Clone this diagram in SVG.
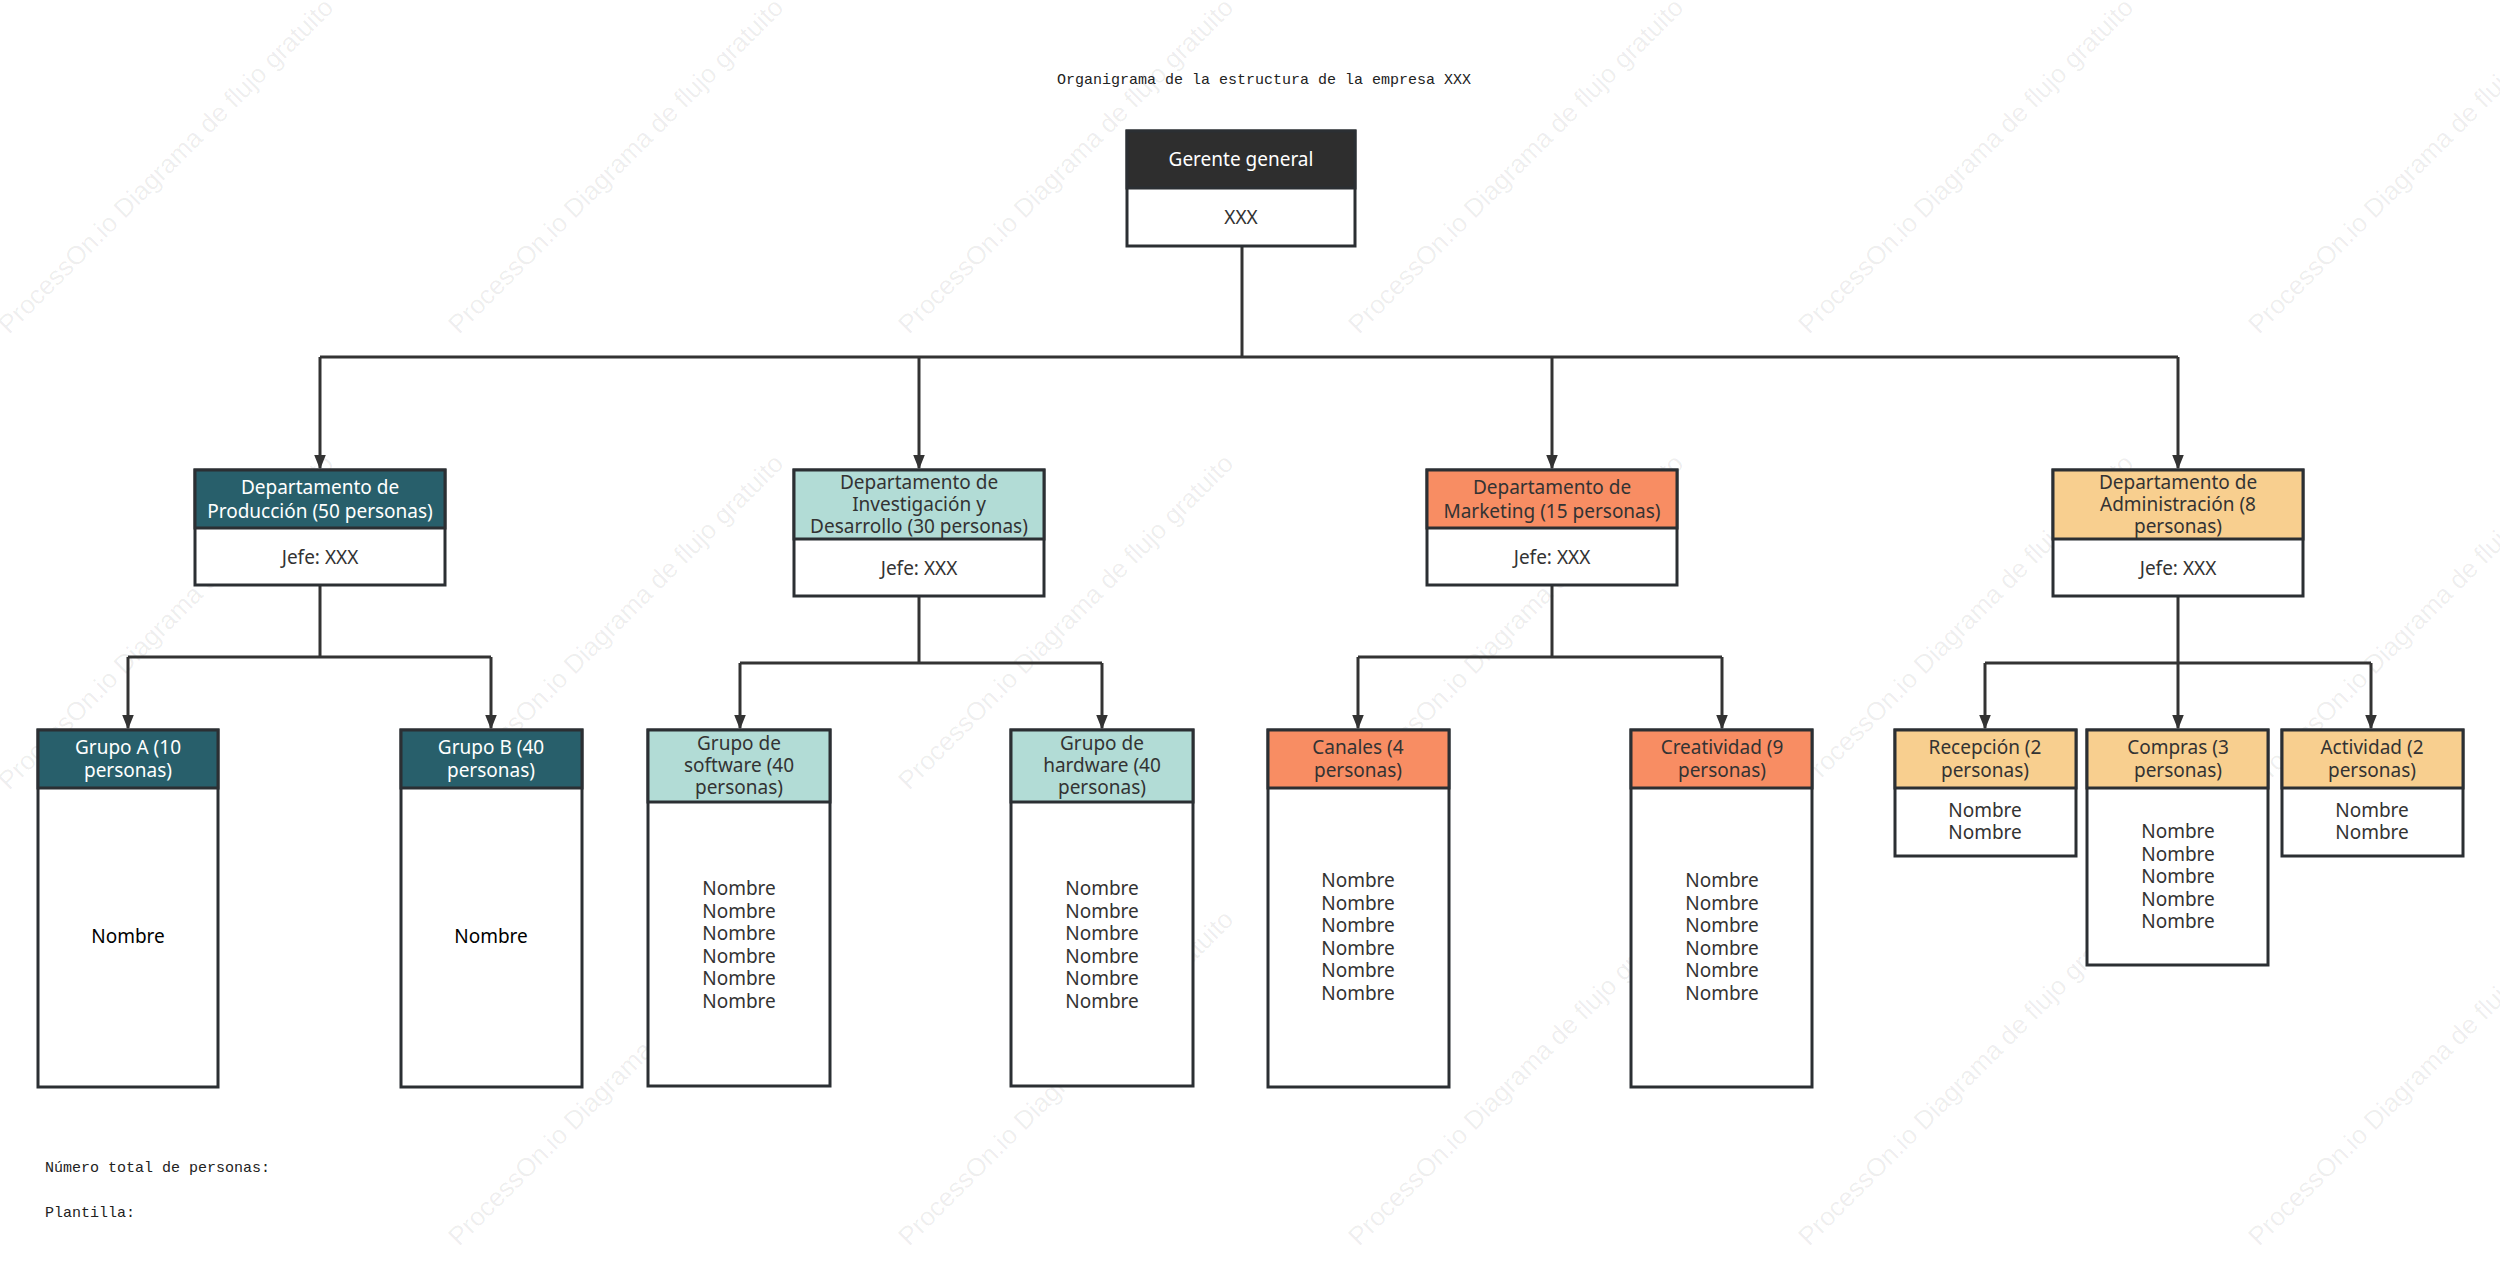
<svg xmlns="http://www.w3.org/2000/svg" width="2500" height="1284" viewBox="0 0 2500 1284">
<style>
.t{font-family:"Noto Sans","Open Sans","Liberation Sans",sans-serif;font-size:19px;fill:#333;text-anchor:middle}
.w{fill:#fff}
.m{font-family:"Liberation Mono","DejaVu Sans Mono",monospace;font-size:15px;fill:#222}
.box{stroke:#2b2f33;stroke-width:3}
.ln{fill:none;stroke:#333;stroke-width:3}
.wm{font-family:"Liberation Sans",sans-serif;font-size:26px;fill:#000;fill-opacity:0.07;text-anchor:middle}
</style>
<defs>
<marker id="ar" viewBox="0 0 10 10" refX="9" refY="5" markerWidth="5" markerHeight="7" markerUnits="strokeWidth" orient="auto"><path d="M0,1 L10,5 L0,9 z" fill="#333"/></marker>
</defs>
<rect width="2500" height="1284" fill="#fff"/>
<g id="watermarks">
<text class="wm" transform="translate(172,172) rotate(-45)">ProcessOn.io Diagrama de flujo gratuito</text>
<text class="wm" transform="translate(622,172) rotate(-45)">ProcessOn.io Diagrama de flujo gratuito</text>
<text class="wm" transform="translate(1072,172) rotate(-45)">ProcessOn.io Diagrama de flujo gratuito</text>
<text class="wm" transform="translate(1522,172) rotate(-45)">ProcessOn.io Diagrama de flujo gratuito</text>
<text class="wm" transform="translate(1972,172) rotate(-45)">ProcessOn.io Diagrama de flujo gratuito</text>
<text class="wm" transform="translate(2422,172) rotate(-45)">ProcessOn.io Diagrama de flujo gratuito</text>
<text class="wm" transform="translate(172,628) rotate(-45)">ProcessOn.io Diagrama de flujo gratuito</text>
<text class="wm" transform="translate(622,628) rotate(-45)">ProcessOn.io Diagrama de flujo gratuito</text>
<text class="wm" transform="translate(1072,628) rotate(-45)">ProcessOn.io Diagrama de flujo gratuito</text>
<text class="wm" transform="translate(1522,628) rotate(-45)">ProcessOn.io Diagrama de flujo gratuito</text>
<text class="wm" transform="translate(1972,628) rotate(-45)">ProcessOn.io Diagrama de flujo gratuito</text>
<text class="wm" transform="translate(2422,628) rotate(-45)">ProcessOn.io Diagrama de flujo gratuito</text>
<text class="wm" transform="translate(622,1084) rotate(-45)">ProcessOn.io Diagrama de flujo gratuito</text>
<text class="wm" transform="translate(1072,1084) rotate(-45)">ProcessOn.io Diagrama de flujo gratuito</text>
<text class="wm" transform="translate(1522,1084) rotate(-45)">ProcessOn.io Diagrama de flujo gratuito</text>
<text class="wm" transform="translate(1972,1084) rotate(-45)">ProcessOn.io Diagrama de flujo gratuito</text>
<text class="wm" transform="translate(2422,1084) rotate(-45)">ProcessOn.io Diagrama de flujo gratuito</text>
</g>
<text class="m" x="1264" y="84" text-anchor="middle">Organigrama de la estructura de la empresa XXX</text>
<text class="m" x="45" y="1172">Número total de personas:</text>
<text class="m" x="45" y="1217">Plantilla:</text>
<g id="connectors">
<path class="ln" d="M1242,246 V357"/>
<path class="ln" d="M320,357 H2178"/>
<path class="ln" d="M320,357 V468" marker-end="url(#ar)"/>
<path class="ln" d="M919,357 V468" marker-end="url(#ar)"/>
<path class="ln" d="M1552,357 V468" marker-end="url(#ar)"/>
<path class="ln" d="M2178,357 V468" marker-end="url(#ar)"/>
<path class="ln" d="M320,585 V657 M128,657 H491"/>
<path class="ln" d="M128,657 V728" marker-end="url(#ar)"/>
<path class="ln" d="M491,657 V728" marker-end="url(#ar)"/>
<path class="ln" d="M919,596 V663 M740,663 H1102"/>
<path class="ln" d="M740,663 V728" marker-end="url(#ar)"/>
<path class="ln" d="M1102,663 V728" marker-end="url(#ar)"/>
<path class="ln" d="M1552,585 V657 M1358,657 H1722"/>
<path class="ln" d="M1358,657 V728" marker-end="url(#ar)"/>
<path class="ln" d="M1722,657 V728" marker-end="url(#ar)"/>
<path class="ln" d="M2178,596 V663 M1985,663 H2371"/>
<path class="ln" d="M1985,663 V728" marker-end="url(#ar)"/>
<path class="ln" d="M2178,663 V728" marker-end="url(#ar)"/>
<path class="ln" d="M2371,663 V728" marker-end="url(#ar)"/>
</g>
<g id="gerente">
<rect class="box" x="1127" y="131" width="228" height="115" fill="#fff"/>
<rect class="box" x="1127" y="131" width="228" height="57" fill="#2e2e2e"/>
<text class="t w" x="1241" y="166">Gerente general</text>
<text class="t" x="1241" y="224">XXX</text>
</g>
<g id="produccion">
<rect class="box" x="195" y="470" width="250" height="115" fill="#fff"/>
<rect class="box" x="195" y="470" width="250" height="58" fill="#285f6b"/>
<text class="t w" x="320" y="494">Departamento de</text>
<text class="t w" x="320" y="518">Producción (50 personas)</text>
<text class="t" x="320" y="564">Jefe: XXX</text>
</g>
<g id="id">
<rect class="box" x="794" y="470" width="250" height="126" fill="#fff"/>
<rect class="box" x="794" y="470" width="250" height="69" fill="#b2dcd6"/>
<text class="t" x="919" y="489">Departamento de</text>
<text class="t" x="919" y="511">Investigación y</text>
<text class="t" x="919" y="533">Desarrollo (30 personas)</text>
<text class="t" x="919" y="575">Jefe: XXX</text>
</g>
<g id="marketing">
<rect class="box" x="1427" y="470" width="250" height="115" fill="#fff"/>
<rect class="box" x="1427" y="470" width="250" height="58" fill="#f88d63"/>
<text class="t" x="1552" y="494">Departamento de</text>
<text class="t" x="1552" y="518">Marketing (15 personas)</text>
<text class="t" x="1552" y="564">Jefe: XXX</text>
</g>
<g id="admin">
<rect class="box" x="2053" y="470" width="250" height="126" fill="#fff"/>
<rect class="box" x="2053" y="470" width="250" height="69" fill="#f8cf8f"/>
<text class="t" x="2178" y="489">Departamento de</text>
<text class="t" x="2178" y="511">Administración (8</text>
<text class="t" x="2178" y="533">personas)</text>
<text class="t" x="2178" y="575">Jefe: XXX</text>
</g>
<g id="grupoA">
<rect class="box" x="38" y="730" width="180" height="357" fill="#fff"/>
<rect class="box" x="38" y="730" width="180" height="58" fill="#285f6b"/>
<text class="t w" x="128" y="754">Grupo A (10</text>
<text class="t w" x="128" y="777">personas)</text>
<text class="t" x="128" y="943" fill="#000" style="fill:#000">Nombre</text>
</g>
<g id="grupoB">
<rect class="box" x="401" y="730" width="181" height="357" fill="#fff"/>
<rect class="box" x="401" y="730" width="181" height="58" fill="#285f6b"/>
<text class="t w" x="491" y="754">Grupo B (40</text>
<text class="t w" x="491" y="777">personas)</text>
<text class="t" x="491" y="943" style="fill:#000">Nombre</text>
</g>
<g id="software">
<rect class="box" x="648" y="730" width="182" height="356" fill="#fff"/>
<rect class="box" x="648" y="730" width="182" height="72" fill="#b2dcd6"/>
<text class="t" x="739" y="750">Grupo de</text>
<text class="t" x="739" y="772">software (40</text>
<text class="t" x="739" y="794">personas)</text>
<text class="t" x="739" y="895">Nombre</text><text class="t" x="739" y="918">Nombre</text><text class="t" x="739" y="940">Nombre</text><text class="t" x="739" y="963">Nombre</text><text class="t" x="739" y="985">Nombre</text><text class="t" x="739" y="1008">Nombre</text>
</g>
<g id="hardware">
<rect class="box" x="1011" y="730" width="182" height="356" fill="#fff"/>
<rect class="box" x="1011" y="730" width="182" height="72" fill="#b2dcd6"/>
<text class="t" x="1102" y="750">Grupo de</text>
<text class="t" x="1102" y="772">hardware (40</text>
<text class="t" x="1102" y="794">personas)</text>
<text class="t" x="1102" y="895">Nombre</text><text class="t" x="1102" y="918">Nombre</text><text class="t" x="1102" y="940">Nombre</text><text class="t" x="1102" y="963">Nombre</text><text class="t" x="1102" y="985">Nombre</text><text class="t" x="1102" y="1008">Nombre</text>
</g>
<g id="canales">
<rect class="box" x="1268" y="730" width="181" height="357" fill="#fff"/>
<rect class="box" x="1268" y="730" width="181" height="58" fill="#f88d63"/>
<text class="t" x="1358" y="754">Canales (4</text>
<text class="t" x="1358" y="777">personas)</text>
<text class="t" x="1358" y="887">Nombre</text><text class="t" x="1358" y="910">Nombre</text><text class="t" x="1358" y="932">Nombre</text><text class="t" x="1358" y="955">Nombre</text><text class="t" x="1358" y="977">Nombre</text><text class="t" x="1358" y="1000">Nombre</text>
</g>
<g id="creatividad">
<rect class="box" x="1631" y="730" width="181" height="357" fill="#fff"/>
<rect class="box" x="1631" y="730" width="181" height="58" fill="#f88d63"/>
<text class="t" x="1722" y="754">Creatividad (9</text>
<text class="t" x="1722" y="777">personas)</text>
<text class="t" x="1722" y="887">Nombre</text><text class="t" x="1722" y="910">Nombre</text><text class="t" x="1722" y="932">Nombre</text><text class="t" x="1722" y="955">Nombre</text><text class="t" x="1722" y="977">Nombre</text><text class="t" x="1722" y="1000">Nombre</text>
</g>
<g id="recepcion">
<rect class="box" x="1895" y="730" width="181" height="126" fill="#fff"/>
<rect class="box" x="1895" y="730" width="181" height="58" fill="#f8cf8f"/>
<text class="t" x="1985" y="754">Recepción (2</text>
<text class="t" x="1985" y="777">personas)</text>
<text class="t" x="1985" y="817">Nombre</text><text class="t" x="1985" y="839">Nombre</text>
</g>
<g id="compras">
<rect class="box" x="2087" y="730" width="181" height="235" fill="#fff"/>
<rect class="box" x="2087" y="730" width="181" height="58" fill="#f8cf8f"/>
<text class="t" x="2178" y="754">Compras (3</text>
<text class="t" x="2178" y="777">personas)</text>
<text class="t" x="2178" y="838">Nombre</text><text class="t" x="2178" y="861">Nombre</text><text class="t" x="2178" y="883">Nombre</text><text class="t" x="2178" y="906">Nombre</text><text class="t" x="2178" y="928">Nombre</text>
</g>
<g id="actividad">
<rect class="box" x="2282" y="730" width="181" height="126" fill="#fff"/>
<rect class="box" x="2282" y="730" width="181" height="58" fill="#f8cf8f"/>
<text class="t" x="2372" y="754">Actividad (2</text>
<text class="t" x="2372" y="777">personas)</text>
<text class="t" x="2372" y="817">Nombre</text><text class="t" x="2372" y="839">Nombre</text>
</g>
</svg>
